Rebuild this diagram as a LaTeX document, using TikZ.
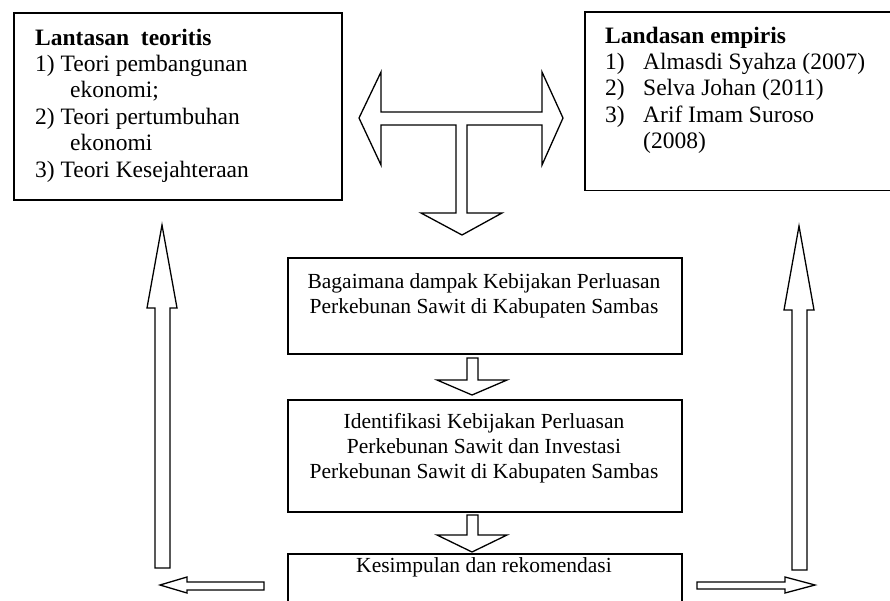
\documentclass[tikz,border=0pt]{standalone}
\usepackage{fontspec}
\setmainfont{Liberation Serif}
\begin{document}
\begin{tikzpicture}[x=1pt,y=-1pt,
  box/.style={draw, line width=1.6pt, inner sep=0pt, anchor=north west},
  openbox/.style={inner sep=0pt, anchor=north west},
  boxline/.style={line width=1.6pt, line join=miter},
  blockarrow/.style={draw, line width=1.3pt, line join=miter, fill=white},
  bigtext/.style={inner sep=0pt, anchor=base west, font=\fontsize{23.5}{26.4}\selectfont},
  midtext/.style={inner sep=0pt, anchor=base, font=\fontsize{21.5}{25}\selectfont}]
\useasboundingbox (0,0) rectangle (890,600);
% boxes
\node[box, minimum width=328pt, minimum height=187pt] (teori) at (13,12) {};
\node[openbox, minimum width=330pt, minimum height=178pt] (empiris) at (585,12) {};
\draw[boxline] (empiris.north east) -- (empiris.north west) -- (empiris.south west) -- (empiris.south east);
\node[box, minimum width=394pt, minimum height=96pt] (dampak) at (287,257) {};
\node[box, minimum width=394pt, minimum height=112pt] (identifikasi) at (287,399) {};
\node[box, minimum width=394pt, minimum height=70pt] (kesimpulan) at (287,553) {};
% texts
\node[bigtext] (teoritxt) at (35,45) {\begin{tabular}[t]{@{}l@{}}
\textbf{Lantasan\ \ teoritis}\\
1) Teori pembangunan\\
\hspace*{35pt}ekonomi;\\
2) Teori pertumbuhan\\
\hspace*{35pt}ekonomi\\
3) Teori Kesejahteraan
\end{tabular}};
\node[bigtext] (empiristxt) at (605,43) {\begin{tabular}[t]{@{}l@{}}
\textbf{Landasan empiris}\\
\makebox[38pt][l]{1)}Almasdi Syahza (2007)\\
\makebox[38pt][l]{2)}Selva Johan (2011)\\
\makebox[38pt][l]{3)}Arif Imam Suroso\\
\hspace*{38pt}(2008)
\end{tabular}};
\node[midtext] (dampaktxt) at (484,288) {\begin{tabular}[t]{@{}c@{}}
Bagaimana dampak Kebijakan Perluasan\\
Perkebunan Sawit di Kabupaten Sambas
\end{tabular}};
\node[midtext] (identtxt) at (484,428) {\begin{tabular}[t]{@{}c@{}}
Identifikasi Kebijakan Perluasan\\
Perkebunan Sawit dan Investasi\\
Perkebunan Sawit di Kabupaten Sambas
\end{tabular}};
\node[midtext] (kesimtxt) at (484,572) {Kesimpulan dan rekomendasi};
% T-shaped block arrow
\draw[blockarrow] (359,118) -- (381,72) -- (381,112) -- (542,112) -- (542,72)
  -- (563,118) -- (542,165) -- (542,125) -- (467,125) -- (467,213) -- (502,213)
  -- (462,235) -- (421,213) -- (456,213) -- (456,125) -- (381,125) -- (381,165) -- cycle;
% small down arrows
\draw[blockarrow] (467,358) -- (478,358) -- (478,380) -- (507,380) -- (472,395)
  -- (437,380) -- (467,380) -- cycle;
\draw[blockarrow] (467,515) -- (478,515) -- (478,535) -- (507,535) -- (472,552)
  -- (437,535) -- (467,535) -- cycle;
% vertical up arrows
\draw[blockarrow] (155,568) -- (155,308) -- (147,308) -- (162,225) -- (177,308)
  -- (170,308) -- (170,568) -- cycle;
\draw[blockarrow] (792,570) -- (792,310) -- (784,310) -- (799,226) -- (814,310)
  -- (807,310) -- (807,570) -- cycle;
% horizontal arrows
\draw[blockarrow] (264,582) -- (187,582) -- (187,577) -- (160,585) -- (187,593)
  -- (187,590) -- (264,590) -- cycle;
\draw[blockarrow] (697,582) -- (785,582) -- (785,577) -- (815,585) -- (785,593)
  -- (785,589) -- (697,589) -- cycle;
\end{tikzpicture}
\end{document}
